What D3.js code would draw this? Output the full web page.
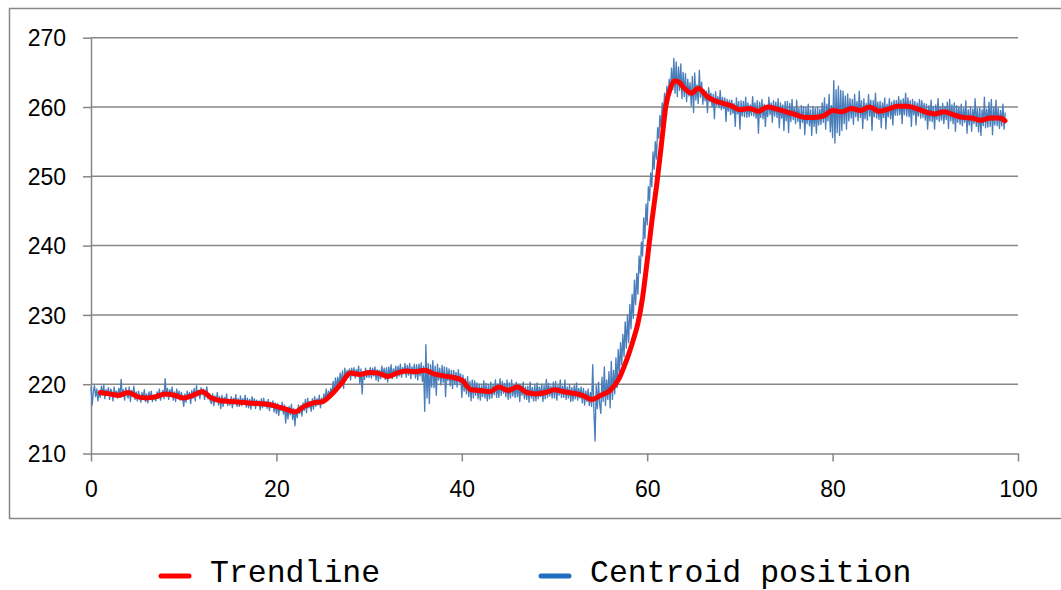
<!DOCTYPE html>
<html>
<head>
<meta charset="utf-8">
<script src="https://cdn.jsdelivr.net/npm/d3@7"></script>
<style>
  html, body { margin: 0; padding: 0; background: #ffffff; }
  svg { display: block; }
</style>
</head>
<body>
<svg id="chart" width="1061" height="590"></svg>
<script>
// Tick labels
const xTicks = [0, 20, 40, 60, 80, 100];
const yTicks = [210, 220, 230, 240, 250, 260, 270];

// Series names
const seriesNames = ["Trendline", "Centroid position"];

// Centroid position, eight samples per unit of x (starting at 0)
const sampleStep = 0.125;
const centroid = [
  219.6, 217.0, 218.9, 219.8, 218.2, 219.3, 217.6, 219.0,
  218.1, 219.7, 218.4, 219.9, 217.9, 219.2, 218.6, 219.5,
  217.8, 219.3, 218.9, 217.6, 219.6, 218.2, 219.0, 218.0,
  219.4, 218.1, 220.7, 218.3, 219.2, 217.7, 219.5, 218.4,
  218.0, 219.6, 217.5, 219.1, 218.3, 219.7, 217.8, 218.9,
  217.6, 219.0, 218.1, 217.4, 218.8, 217.9, 219.2, 217.5,
  218.6, 217.3, 218.9, 217.8, 219.0, 217.5, 218.4, 217.9,
  217.6, 218.9, 218.0, 219.3, 217.7, 218.6, 219.1, 217.9,
  220.8, 218.2, 219.4, 217.8, 219.2, 218.4, 219.6, 217.7,
  218.9, 217.5, 219.3, 218.1, 219.0, 217.7, 218.8, 218.2,
  216.8, 218.6, 217.4, 219.0, 217.9, 218.8, 217.2, 219.1,
  218.0, 219.4, 217.6, 219.8, 218.3, 219.1, 217.9, 219.5,
  218.5, 219.3, 217.8, 218.9, 219.6, 217.9, 218.6, 217.5,
  217.2, 218.6, 216.9, 218.3, 217.5, 218.8, 217.0, 218.2,
  216.5, 218.4, 216.8, 218.1, 217.3, 218.6, 216.9, 217.8,
  217.0, 218.2, 216.6, 218.0, 217.2, 218.5, 216.8, 217.9,
  216.8, 218.3, 216.9, 217.9, 217.1, 218.4, 216.7, 218.0,
  216.6, 217.8, 216.4, 218.2, 216.9, 217.9, 216.5, 217.7,
  216.9, 217.6, 216.3, 217.9, 216.6, 218.0, 216.8, 217.5,
  216.5, 217.8, 216.2, 217.4, 216.7, 217.6, 216.0, 217.3,
  215.8, 217.2, 215.5, 216.9, 216.2, 217.4, 215.7, 217.0,
  214.4, 216.7, 215.0, 216.8, 215.6, 217.1, 214.9, 216.5,
  214.0, 216.3, 215.2, 217.0, 215.8, 216.9, 215.4, 217.3,
  216.2, 217.8, 215.9, 218.0, 216.6, 217.5, 216.1, 217.9,
  216.4, 218.2, 216.8, 217.9, 217.0, 218.4, 216.6, 218.0,
  217.2, 218.6, 217.6, 219.3, 217.8, 219.0, 218.2, 219.4,
  218.5, 220.4, 218.8, 220.9, 219.3, 221.0, 219.6, 221.6,
  220.2, 221.9, 219.4, 222.3, 220.8, 222.0, 221.0, 222.2,
  220.6, 222.3, 221.2, 222.4, 220.9, 222.1, 221.4, 222.6,
  220.1, 222.2, 218.6, 221.8, 220.7, 222.3, 221.0, 222.0,
  221.0, 222.4, 220.9, 222.3, 221.2, 222.5, 220.6, 222.1,
  220.4, 222.0, 220.8, 222.6, 221.1, 222.3, 220.7, 222.4,
  220.3, 222.5, 221.0, 222.8, 220.8, 222.2, 221.3, 222.6,
  220.9, 222.6, 221.2, 222.9, 221.0, 222.4, 221.5, 223.0,
  221.0, 222.7, 221.3, 223.0, 220.8, 222.5, 221.4, 222.9,
  220.9, 222.8, 220.6, 222.9, 221.2, 223.1, 220.4, 222.6,
  216.1, 225.7, 218.0, 223.0, 217.2, 222.8, 219.6, 223.4,
  219.5, 222.6, 218.4, 222.9, 220.6, 222.3, 219.9, 222.7,
  220.3, 222.5, 218.2, 222.4, 220.5, 222.2, 219.8, 222.0,
  219.4, 222.0, 220.0, 221.7, 219.6, 222.1, 220.2, 221.5,
  218.1, 221.3, 219.0, 220.8, 218.6, 221.1, 218.2, 220.4,
  217.6, 220.6, 218.0, 220.5, 218.4, 220.2, 217.9, 220.0,
  217.7, 219.8, 218.2, 220.5, 218.0, 220.1, 217.6, 219.9,
  217.9, 220.3, 218.0, 219.9, 218.5, 220.6, 218.1, 220.0,
  218.1, 220.8, 218.4, 220.4, 218.7, 220.1, 218.2, 220.6,
  217.8, 220.2, 218.0, 220.6, 218.3, 219.9, 218.1, 220.3,
  218.2, 220.0, 217.5, 219.8, 218.4, 220.3, 217.9, 219.6,
  217.8, 219.7, 217.4, 220.3, 218.0, 219.5, 217.6, 219.9,
  217.6, 220.2, 217.9, 219.6, 218.2, 220.0, 217.5, 219.8,
  217.9, 220.7, 218.1, 220.1, 218.3, 219.7, 218.0, 220.3,
  218.0, 220.4, 217.7, 219.8, 218.4, 220.6, 218.1, 219.7,
  218.1, 220.6, 217.8, 219.6, 218.0, 219.9, 217.5, 219.5,
  217.6, 219.8, 217.9, 220.2, 217.7, 219.4, 218.0, 219.6,
  217.3, 219.4, 217.0, 219.0, 217.5, 219.3, 216.9, 218.8,
  216.8, 222.8, 216.2, 211.8, 219.8, 216.5, 220.3, 217.1,
  215.8, 221.0, 217.5, 222.5, 216.9, 220.6, 217.8, 221.8,
  216.6, 223.3, 217.8, 222.0, 218.6, 223.8, 219.5, 225.0,
  221.5, 226.0, 222.8, 227.2, 224.0, 229.0, 225.2, 230.0,
  226.0, 231.5, 228.0, 233.0, 229.5, 235.0, 231.5, 236.0,
  233.0, 238.5, 236.0, 240.5, 238.5, 244.0, 241.0, 246.0,
  243.0, 248.5, 246.5, 250.5, 248.5, 253.5, 251.0, 255.0,
  252.5, 257.0, 255.5, 258.8, 257.0, 260.6, 259.0, 262.0,
  259.5, 263.0, 261.2, 264.0, 262.0, 265.6, 262.5, 267.0,
  262.0, 266.5, 261.5, 265.8, 262.4, 266.2, 261.2, 265.0,
  261.5, 264.8, 260.8, 264.0, 261.6, 263.5, 260.2, 264.4,
  259.2, 264.9, 261.0, 263.2, 260.5, 265.3, 261.4, 263.6,
  260.4, 262.5, 260.9, 262.3, 259.2, 262.8, 260.8, 262.0,
  260.0, 261.8, 258.3, 262.2, 260.2, 261.5, 259.9, 262.4,
  259.6, 261.4, 259.8, 261.3, 257.9, 261.1, 259.4, 261.0,
  258.9, 261.0, 259.1, 260.5, 257.2, 261.3, 259.0, 260.8,
  256.8, 260.9, 258.7, 260.8, 258.6, 261.4, 258.5, 260.6,
  258.6, 260.3, 258.8, 261.5, 258.7, 260.6, 258.4, 260.9,
  256.2, 260.7, 258.5, 261.1, 258.3, 260.4, 257.2, 260.2,
  258.6, 261.4, 258.9, 260.6, 257.8, 260.9, 258.7, 260.7,
  258.5, 261.2, 257.0, 260.6, 258.4, 260.3, 256.6, 260.8,
  258.0, 260.8, 256.3, 260.5, 257.9, 261.1, 258.2, 259.9,
  257.6, 261.0, 257.9, 259.8, 256.9, 260.2, 257.8, 260.0,
  256.0, 259.9, 257.6, 260.4, 257.3, 259.6, 255.9, 260.1,
  257.2, 259.8, 256.2, 260.0, 257.4, 259.7, 257.5, 260.6,
  257.8, 261.3, 256.8, 260.4, 258.0, 261.8, 256.4, 260.2,
  255.6, 263.8, 254.8, 262.5, 256.3, 263.0, 255.9, 262.4,
  256.6, 262.3, 257.6, 261.6, 256.8, 261.9, 258.0, 261.2,
  258.4, 261.1, 257.5, 261.8, 258.6, 260.8, 258.0, 262.3,
  258.5, 260.9, 256.9, 261.2, 258.3, 260.5, 258.1, 261.8,
  258.7, 261.0, 256.6, 260.9, 258.6, 262.0, 258.4, 260.7,
  258.2, 260.8, 257.0, 260.6, 258.5, 261.3, 256.8, 260.4,
  258.6, 261.2, 258.3, 260.7, 257.4, 261.0, 258.8, 260.9,
  258.8, 261.5, 258.9, 261.0, 257.6, 261.2, 258.9, 262.0,
  258.7, 261.3, 258.6, 260.9, 257.2, 261.1, 258.9, 260.8,
  257.4, 260.6, 258.7, 261.1, 258.4, 260.9, 258.5, 260.5,
  258.1, 260.4, 256.8, 260.2, 258.0, 261.0, 257.9, 260.1,
  256.8, 260.3, 258.2, 261.2, 257.9, 260.0, 258.1, 260.5,
  257.6, 260.1, 258.2, 260.7, 256.9, 261.1, 258.0, 260.3,
  257.6, 260.6, 256.5, 260.2, 257.8, 260.0, 257.5, 260.4,
  257.3, 259.8, 257.8, 260.9, 256.2, 259.6, 257.4, 260.0,
  256.5, 259.7, 257.6, 261.2, 257.2, 259.8, 256.4, 259.9,
  255.9, 259.6, 257.3, 261.4, 257.0, 259.7, 257.1, 260.7,
  257.2, 261.1, 256.0, 260.0, 257.4, 261.0, 257.3, 259.8,
  256.9, 259.5, 257.3, 260.4, 256.8, 259.2
];

// Moving-average trendline
const trendX = [
  1, 2, 3, 4, 5, 6, 7, 8, 9, 10, 11, 12, 13, 14, 15, 16, 17, 18, 19, 20,
  21, 22, 23, 24, 25, 26, 27, 28, 29, 30, 31, 32, 33, 34, 35, 36, 37, 38, 39, 40,
  41, 42, 43, 44, 45, 46, 47, 48, 49, 50, 51, 52, 53, 54, 55, 56, 57, 57.5, 58, 58.5,
  59, 59.5, 60, 60.5, 61, 61.5, 62, 62.5, 63, 63.5, 64, 64.8, 65.5, 66.4, 67.1, 68, 69, 70,
  71, 72, 73, 74, 75, 76, 77, 78, 79, 80, 81, 82, 83, 84, 85, 86, 87, 88, 89, 90,
  91, 92, 93, 94, 95, 96, 97, 98, 98.6
];
const trendY = [
  218.8, 218.6, 218.4, 218.8, 218.2, 218.0, 218.2, 218.6, 218.4, 218.0, 218.4, 218.9, 218.0, 217.6, 217.5, 217.4, 217.3, 217.2, 217.1, 216.8,
  216.4, 216.0, 216.8, 217.3, 217.5, 218.6, 220.1, 221.6, 221.4, 221.7, 221.6, 221.1, 221.6, 221.9, 221.8, 222.0, 221.5, 221.2, 221.0, 220.6,
  219.2, 219.1, 218.9, 219.6, 219.1, 219.6, 218.8, 218.6, 218.8, 219.2, 218.9, 218.7, 218.4, 217.8, 218.4, 219.1, 220.9, 222.5, 224.3, 226.4,
  228.8, 232.5, 237.8, 243.5, 248.5, 254.2, 260.0, 262.7, 263.8, 263.5, 262.7, 262.0, 262.7, 261.6, 261.0, 260.6, 260.2, 259.6,
  259.8, 259.4, 260.0, 259.7, 259.3, 258.9, 258.5, 258.5, 258.7, 259.5, 259.3, 259.8, 259.5, 260.0, 259.4, 259.7, 260.1, 260.1, 259.8, 259.3,
  259.0, 259.3, 258.9, 258.5, 258.4, 258.1, 258.4, 258.4, 258.0
];

const svg = d3.select("#chart");

// Plot area
const plot = { left: 91, right: 1018, top: 37.7, bottom: 453.5 };
const gridColor = "#878787";

const x = d3.scaleLinear().domain([0, 100]).range([plot.left, plot.right]);
const y = d3.scaleLinear().domain([210, 270]).range([plot.bottom, plot.top]);

// Chart frame
svg.append("rect")
  .attr("x", 9.5).attr("y", 8.5)
  .attr("width", 1060).attr("height", 510)
  .attr("fill", "none")
  .attr("stroke", gridColor)
  .attr("stroke-width", 1.5);

// Horizontal gridlines
svg.append("g")
  .selectAll("line")
  .data(yTicks.filter(d => d > 210))
  .join("line")
  .attr("x1", plot.left).attr("x2", plot.right)
  .attr("y1", d => y(d)).attr("y2", d => y(d))
  .attr("stroke", gridColor)
  .attr("stroke-width", 1.5);

// Y axis
const yAxis = svg.append("g")
  .attr("transform", `translate(${plot.left},0)`)
  .call(d3.axisLeft(y).tickValues(yTicks).tickSize(8).tickPadding(17).tickSizeOuter(0));
yAxis.select(".domain").attr("stroke", gridColor).attr("stroke-width", 1.5);
yAxis.selectAll(".tick line").attr("stroke", gridColor).attr("stroke-width", 1.5);
yAxis.selectAll(".tick text")
  .attr("font-family", "'Liberation Sans', Arial, sans-serif")
  .attr("font-size", 23)
  .attr("fill", "#000")
  .attr("dy", "0.36em");

// X axis
const xAxis = svg.append("g")
  .attr("transform", `translate(0,${plot.bottom})`)
  .call(d3.axisBottom(x).tickValues(xTicks).tickSize(8).tickPadding(19).tickSizeOuter(0));
xAxis.select(".domain").attr("stroke", gridColor).attr("stroke-width", 1.5);
xAxis.selectAll(".tick line").attr("stroke", gridColor).attr("stroke-width", 1.5);
xAxis.selectAll(".tick text")
  .attr("font-family", "'Liberation Sans', Arial, sans-serif")
  .attr("font-size", 23)
  .attr("fill", "#000")
  .attr("dy", "0.72em");

// Centroid position series
const centroidLine = d3.line()
  .x((d, i) => x(i * sampleStep))
  .y(d => y(d));
svg.append("path")
  .datum(centroid)
  .attr("d", centroidLine)
  .attr("fill", "none")
  .attr("stroke", "#4a7ebb")
  .attr("stroke-width", 1.35)
  .attr("stroke-linejoin", "round");

// Trendline
const trendData = trendX.map((d, i) => [d, trendY[i]]);
const trendLine = d3.line()
  .x(d => x(d[0]))
  .y(d => y(d[1]))
  .curve(d3.curveMonotoneX);
svg.append("path")
  .datum(trendData)
  .attr("d", trendLine)
  .attr("fill", "none")
  .attr("stroke", "#ff0000")
  .attr("stroke-width", 5)
  .attr("stroke-linejoin", "round")
  .attr("stroke-linecap", "round");

// Legend
const legendItems = [
  { name: seriesNames[0], color: "#ff0000", x: 159 },
  { name: seriesNames[1], color: "#1e6fc0", x: 539 }
];
const legend = svg.append("g");
legendItems.forEach(item => {
  legend.append("line")
    .attr("x1", item.x + 2).attr("x2", item.x + 30)
    .attr("y1", 576).attr("y2", 576)
    .attr("stroke", item.color)
    .attr("stroke-width", 5)
    .attr("stroke-linecap", "round");
  legend.append("text")
    .attr("x", item.x + 51)
    .attr("y", 582)
    .attr("font-family", "'Liberation Mono', 'Courier New', monospace")
    .attr("font-size", 31.5)
    .attr("fill", "#000")
    .text(item.name);
});
</script>
</body>
</html>
